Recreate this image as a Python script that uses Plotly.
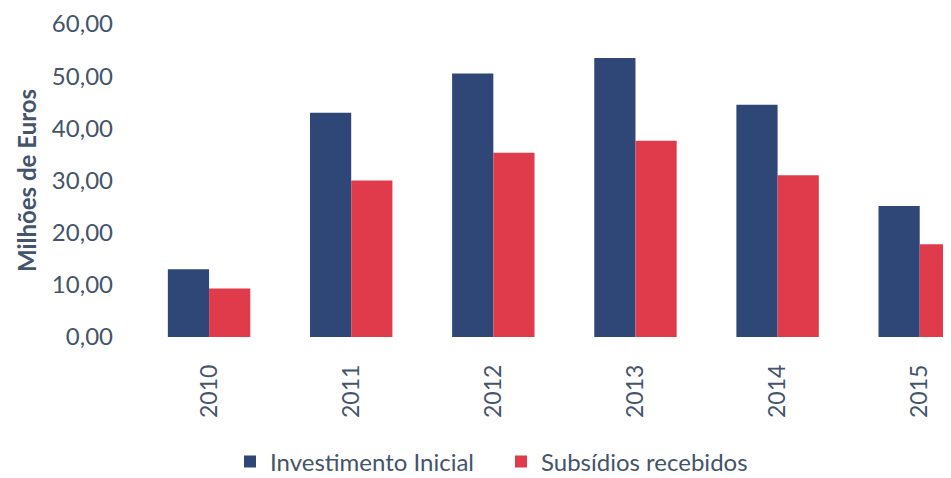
import plotly.graph_objects as go

years = ["2010", "2011", "2012", "2013", "2014", "2015"]
investimento = [13.0, 43.0, 50.5, 53.5, 44.5, 25.1]
subsidios = [9.3, 30.0, 35.3, 37.6, 31.0, 17.8]
y_ticks = [0, 10, 20, 30, 40, 50, 60]

BLUE = "#2F4777"
RED = "#E03B4B"
TEXT = "#44546A"
FONT = "Lato"

fig = go.Figure()
fig.add_trace(go.Bar(x=years, y=investimento, name="Investimento Inicial",
                     marker=dict(color=BLUE, line=dict(width=0))))
fig.add_trace(go.Bar(x=years, y=subsidios, name="Subsídios recebidos",
                     marker=dict(color=RED, line=dict(width=0))))

fig.update_layout(
    width=943, height=470,
    margin=dict(l=130, r=0, t=16, b=141, autoexpand=False),
    paper_bgcolor="white", plot_bgcolor="white",
    separators=", ",
    barmode="group", bargap=0.42, bargroupgap=0,
    font=dict(family=FONT, color=TEXT),
    showlegend=True,
    legend=dict(orientation="h", xref="container", yref="container",
                x=222 / 943, xanchor="left", y=0.034, yanchor="middle",
                font=dict(size=24, color=TEXT, family=FONT),
                traceorder="normal", itemwidth=30, entrywidth=226,
                bgcolor="rgba(0,0,0,0)"),
    xaxis=dict(type="category", range=[-0.5, 5.22], showgrid=False,
               showline=False, zeroline=False, tickangle=-90,
               ticks="", ticklabelstandoff=22,
               tickfont=dict(size=23, color=TEXT, family=FONT)),
    yaxis=dict(range=[0, 60], tickvals=y_ticks, tickformat=".2f",
               showgrid=False, showline=False, zeroline=False,
               ticks="", ticklabelstandoff=24,
               tickfont=dict(size=24, color=TEXT, family=FONT),
               title=dict(text="<b>Milhões de Euros</b>", standoff=8,
                          font=dict(size=24, color=TEXT, family=FONT))),
)

fig.write_html("out.html")
